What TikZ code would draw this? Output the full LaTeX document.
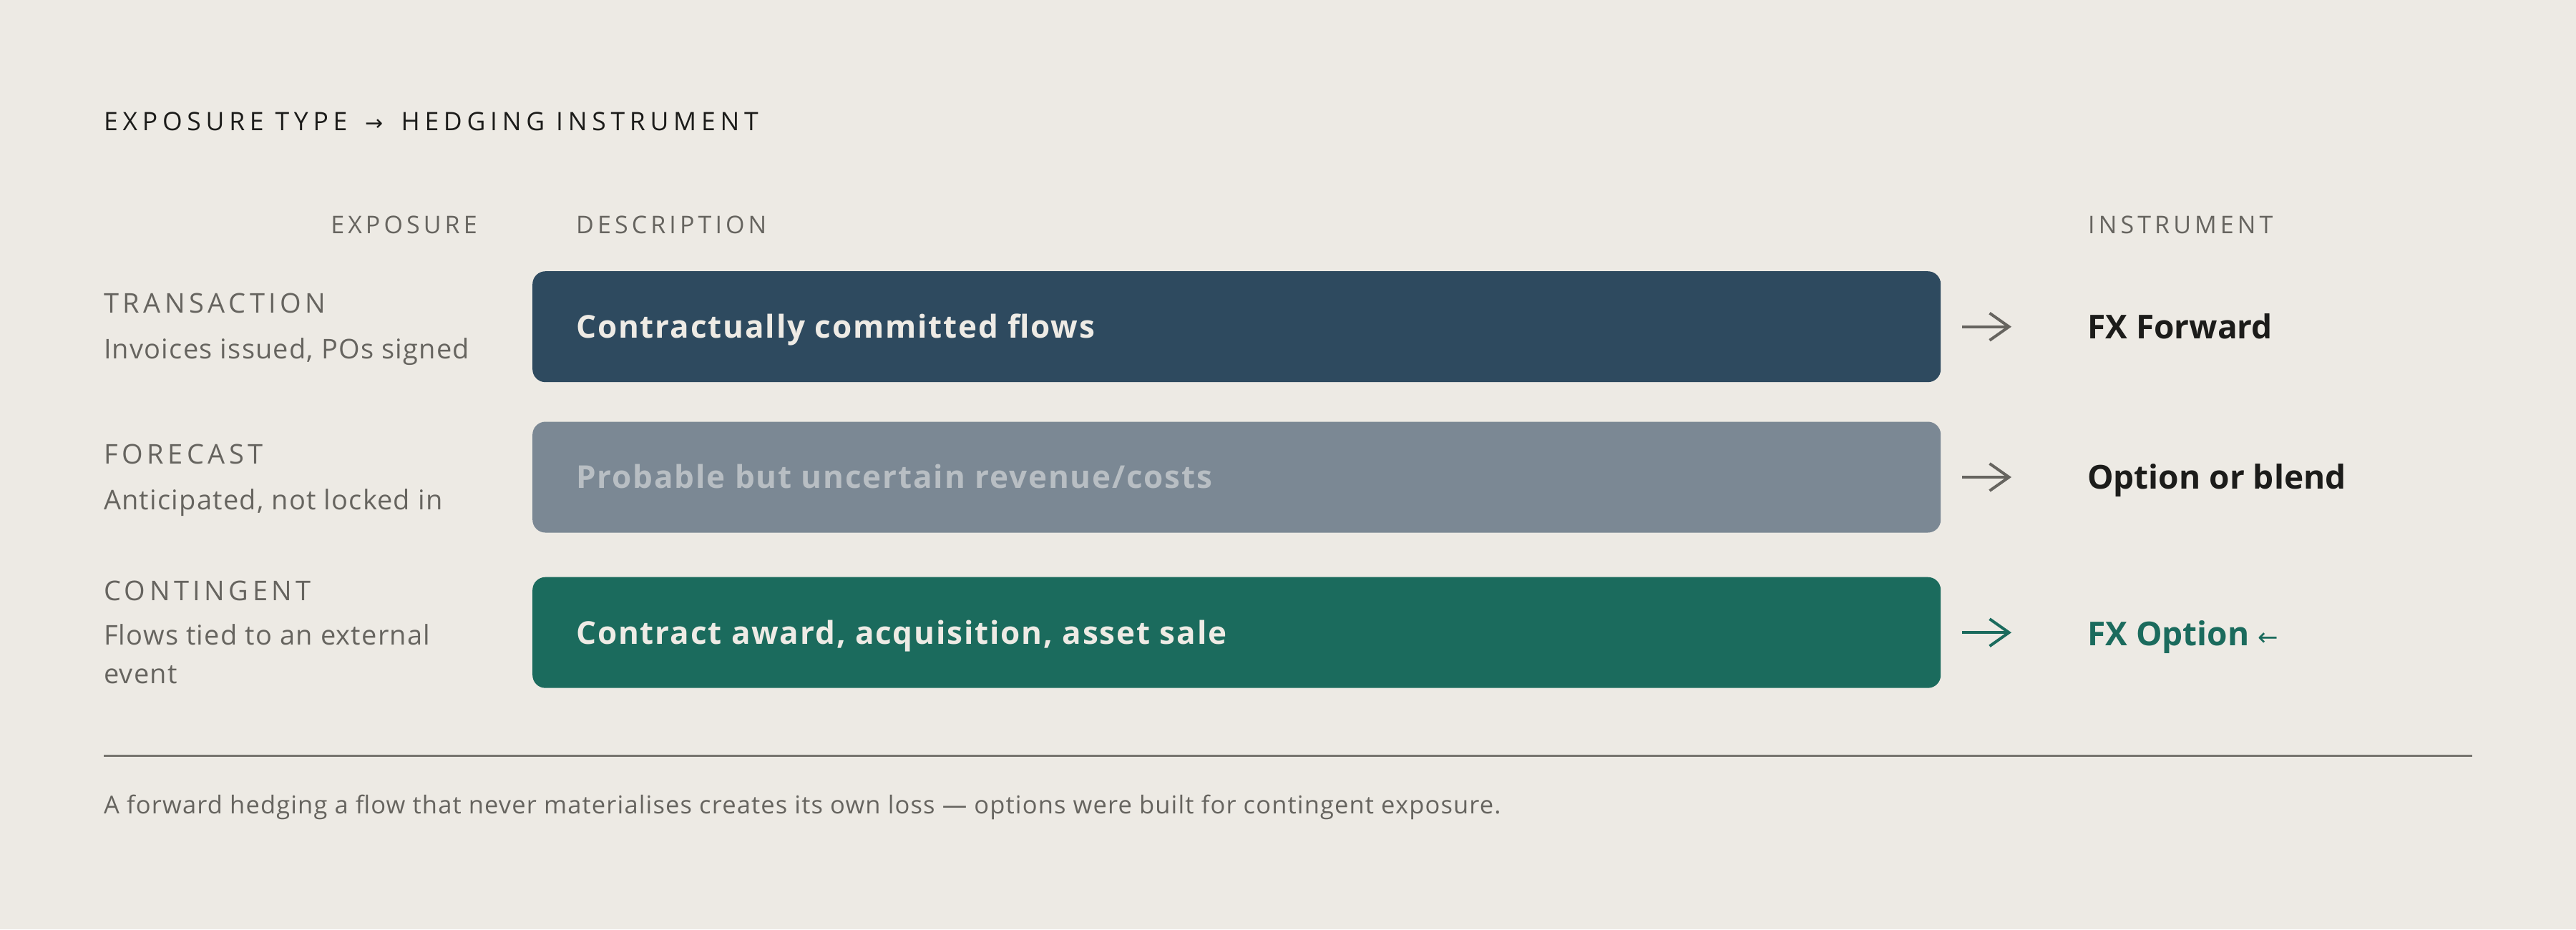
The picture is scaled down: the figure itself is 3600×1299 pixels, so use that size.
\documentclass[tikz,border=0pt]{standalone}
\usepackage{fontspec}
\setmainfont{Open Sans}
\newfontfamily\symfont{DejaVu Sans}
\usetikzlibrary{arrows.meta}
\definecolor{bg}{HTML}{EDEAE4}
\definecolor{darkbox}{HTML}{2E4A5F}
\definecolor{slatebox}{HTML}{7B8894}
\definecolor{greenbox}{HTML}{1B6B5D}
\definecolor{lighttext}{HTML}{EEEBE5}
\definecolor{fadedtext}{HTML}{B8BEC3}
\definecolor{labelgray}{HTML}{66645F}
\definecolor{ink}{HTML}{1C1C1A}
\definecolor{rulegray}{HTML}{76746E}
\tikzset{
  txt/.style={inner sep=0pt, anchor=base west},
  titletxt/.style={txt, text=ink, font=\fontsize{35.5}{40}\selectfont\addfontfeatures{LetterSpace=19}},
  headtxt/.style={txt, text=labelgray, font=\fontsize{34}{40}\selectfont\addfontfeatures{LetterSpace=15}},
  kindtxt/.style={txt, text=labelgray, font=\fontsize{38}{44}\selectfont\addfontfeatures{LetterSpace=14.5}},
  subtxt/.style={txt, text=labelgray, font=\fontsize{38}{54}\selectfont\addfontfeatures{LetterSpace=3.2}},
  bar/.style={rounded corners=18pt, minimum width=1968pt, minimum height=155pt, inner sep=0pt, anchor=north west},
  bartxt/.style={txt, font=\fontsize{44}{50}\selectfont\bfseries\addfontfeatures{LetterSpace=4.2}},
  insttxt/.style={txt, text=ink, font=\fontsize{46}{52}\selectfont\bfseries},
  flow/.style={line width=4pt, -{Straight Barb[length=27pt, width=38pt, line width=4pt]}, shorten <=30pt, shorten >=106pt},
}
\begin{document}
\begin{tikzpicture}[x=1pt, y=-1pt]
\fill[bg] (0,0) rectangle (3600,1299);
\useasboundingbox (0,0) rectangle (3600,1299);

\node[titletxt] (title) at (145,182) {EXPOSURE TYPE \hspace{9pt}{\symfont\fontsize{30}{36}\selectfont →}\hspace{9pt} HEDGING INSTRUMENT};

\node[headtxt, anchor=base east] (hexp) at (667,326) {EXPOSURE};
\node[headtxt] (hdesc) at (805,326) {DESCRIPTION};
\node[headtxt] (hinst) at (2918,326) {INSTRUMENT};

% row 1
\node[kindtxt] (k1) at (145,437.7) {TRANSACTION};
\node[subtxt] (s1) at (145,501.7) {Invoices issued, POs signed};
\node[bar, fill=darkbox] (b1) at (744,379) {};
\node[bartxt, text=lighttext] (t1) at (805,472.7) {Contractually committed flows};
\node[insttxt] (i1) at (2917,473) {FX Forward};
\draw[flow, labelgray] (b1.east) -- (b1.east -| i1.west);

% row 2
\node[kindtxt] (k2) at (145,648) {FORECAST};
\node[subtxt] (s2) at (145,712) {Anticipated, not locked in};
\node[bar, fill=slatebox] (b2) at (744,589.3) {};
\node[bartxt, text=fadedtext] (t2) at (805,682.5) {Probable but uncertain revenue/costs};
\node[insttxt] (i2) at (2917,683) {Option or blend};
\draw[flow, labelgray] (b2.east) -- (b2.east -| i2.west);

% row 3
\node[kindtxt] (k3) at (145,839.5) {CONTINGENT};
\node[subtxt] (s3) at (145,901.5) {Flows tied to an external};
\node[subtxt] (s3b) at (145,955.8) {event};
\node[bar, fill=greenbox] (b3) at (744,806.5) {};
\node[bartxt, text=lighttext] (t3) at (805,900) {Contract award, acquisition, asset sale};
\node[insttxt, text=greenbox] (i3) at (2917,902) {FX Option {\symfont\mdseries\fontsize{34}{40}\selectfont ←}};
\draw[flow, greenbox] (b3.east) -- (b3.east -| i3.west);

% rule and footnote
\coordinate (rl) at (145,1056);
\coordinate (rr) at (3455,1056);
\draw[rulegray, line width=3pt] (rl) -- (rr);
\node[txt, text=labelgray, font=\fontsize{34.5}{40}\selectfont\addfontfeatures{LetterSpace=3.3}] (foot) at (145,1137) {A forward hedging a flow that never materialises creates its own loss — options were built for contingent exposure.};
\end{tikzpicture}
\end{document}
